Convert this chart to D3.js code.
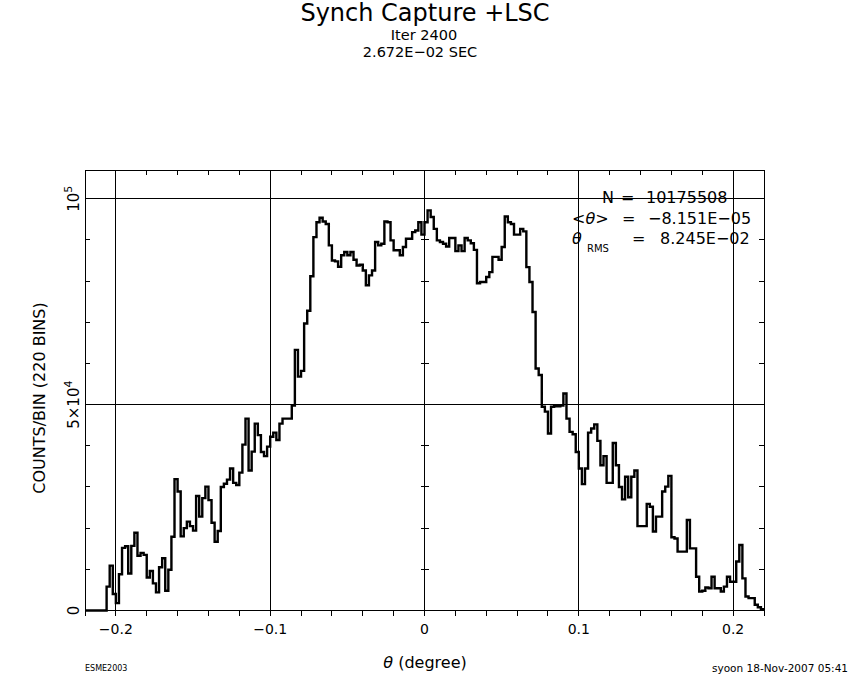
<!DOCTYPE html>
<html>
<head>
<meta charset="utf-8">
<script src="https://cdn.jsdelivr.net/npm/d3@7"></script>
<style>
  body { margin: 0; background: #fff; }
  text { font-family: "DejaVu Sans", sans-serif; fill: #000; }
</style>
</head>
<body>
<svg id="chart" width="850" height="680"></svg>
<script>
// histogram: 220 bins of width 0.002 degree between -0.22 and 0.22, counts in thousands
var binStart = -0.22, binWidth = 0.002;
var countsK = [
  0, 0, 0, 0, 0, 0, 0, 5.8, 10.9, 4.0,
  1.8, 8.8, 15.2, 15.6, 9.0, 15.7, 18.9, 13.3, 14.0, 13.5,
  8.0, 9.6, 6.6, 4.4, 10.5, 12.7, 4.8, 9.9, 17.9, 31.9,
  28.9, 18.0, 20.0, 21.6, 20.5, 19.4, 27.8, 22.8, 27.3, 30.1,
  26.8, 21.3, 16.7, 19.3, 30.0, 30.8, 31.8, 34.5, 31.0, 30.5,
  33.5, 40.3, 46.6, 34.0, 38.6, 45.4, 42.6, 38.5, 37.5, 39.8,
  42.2, 43.2, 41.4, 45.4, 46.6, 46.6, 46.6, 49.8, 63.3, 56.8,
  58.2, 69.7, 72.8, 81.2, 90.7, 94.3, 95.4, 94.5, 93.9, 88.7,
  85.0, 84.8, 83.5, 86.3, 87.1, 86.3, 87.1, 85.2, 83.8, 84.0,
  82.6, 79.0, 81.4, 82.6, 89.5, 88.7, 89.1, 94.5, 94.3, 89.9,
  87.5, 87.5, 86.3, 88.3, 90.3, 90.3, 91.9, 92.3, 94.3, 91.3,
  94.3, 97.2, 95.6, 92.7, 89.9, 89.5, 89.1, 88.4, 90.5, 90.5,
  87.3, 88.7, 87.3, 90.5, 89.9, 89.2, 87.6, 79.5, 79.8, 79.8,
  81.0, 82.2, 85.9, 85.9, 85.2, 88.3, 95.7, 94.3, 93.9, 91.3,
  91.3, 92.7, 92.1, 83.4, 79.8, 72.5, 58.8, 57.2, 49.5, 48.3,
  43.0, 49.5, 49.6, 49.6, 49.8, 52.7, 46.6, 43.4, 42.8, 38.5,
  34.5, 30.7, 34.5, 43.2, 44.2, 45.2, 41.2, 35.3, 37.5, 31.0,
  31.0, 40.7, 35.3, 30.0, 27.0, 32.5, 27.5, 32.5, 34.0, 20.5,
  20.5, 20.5, 25.9, 25.2, 19.2, 22.8, 22.8, 28.9, 30.1, 32.7,
  17.8, 17.5, 14.3, 14.3, 14.3, 22.0, 15.1, 15.1, 8.2, 4.6,
  4.8, 5.6, 5.4, 8.2, 5.4, 5.4, 4.6, 5.8, 8.2, 7.0,
  7.0, 11.9, 15.9, 7.8, 3.4, 3.0, 3.0, 1.4, 0.8, 0.3
];
var counts = countsK.map(function(v) { return v * 1000; });

var xMajor = [-0.2, -0.1, 0, 0.1, 0.2];
var xTickLabels = ["\u22120.2", "\u22120.1", "0", "0.1", "0.2"];
var yMajor = [0, 50000, 100000];

var titleLines = ["Synch Capture +LSC", "Iter 2400", "2.672E\u221202 SEC"];
var statN = "10175508", statMean = "\u22128.151E\u221205", statRms = "8.245E\u221202";

var svg = d3.select("#chart");

var x = d3.scaleLinear().domain([-0.22, 0.22]).range([85, 764]);
var y = d3.scaleLinear().domain([0, 107000]).range([610.5, 170]);

// grid lines
svg.append("g").attr("shape-rendering", "crispEdges").selectAll("line")
    .data(xMajor)
  .enter().append("line")
    .attr("x1", function(d) { return x(d); })
    .attr("x2", function(d) { return x(d); })
    .attr("y1", y.range()[1])
    .attr("y2", y.range()[0])
    .attr("stroke", "#000").attr("stroke-width", 1);
svg.append("g").attr("shape-rendering", "crispEdges").selectAll("line")
    .data(yMajor.slice(1))
  .enter().append("line")
    .attr("x1", x.range()[0]).attr("x2", x.range()[1])
    .attr("y1", function(d) { return y(d); })
    .attr("y2", function(d) { return y(d); })
    .attr("stroke", "#000").attr("stroke-width", 1);

// frame
svg.append("rect")
    .attr("x", x.range()[0]).attr("y", y.range()[1])
    .attr("width", x.range()[1] - x.range()[0])
    .attr("height", y.range()[0] - y.range()[1])
    .attr("shape-rendering", "crispEdges")
    .attr("fill", "none").attr("stroke", "#000").attr("stroke-width", 1);

// minor ticks
var xMinor = d3.range(-0.22, 0.2201, 0.02);
var yMinor = d3.range(0, 107000, 10000);
var ticks = svg.append("g").attr("stroke", "#000").attr("stroke-width", 1)
    .attr("shape-rendering", "crispEdges");
xMinor.forEach(function(v) {
  ticks.append("line").attr("x1", x(v)).attr("x2", x(v))
      .attr("y1", y.range()[0]).attr("y2", y.range()[0] + 5);
  ticks.append("line").attr("x1", x(v)).attr("x2", x(v))
      .attr("y1", y.range()[1]).attr("y2", y.range()[1] + 5);
});
yMinor.forEach(function(v) {
  ticks.append("line").attr("x1", x.range()[0]).attr("x2", x.range()[0] + 5)
      .attr("y1", y(v)).attr("y2", y(v));
  ticks.append("line").attr("x1", x.range()[1] - 5).attr("x2", x.range()[1])
      .attr("y1", y(v)).attr("y2", y(v));
  ticks.append("line").attr("x1", x(0) - 4).attr("x2", x(0) + 4)
      .attr("y1", y(v)).attr("y2", y(v));
});

// histogram as a step line
var pts = counts.map(function(c, i) { return [binStart + i * binWidth, c]; });
pts.push([binStart + counts.length * binWidth, counts[counts.length - 1]]);
var step = d3.line()
    .x(function(d) { return x(d[0]); })
    .y(function(d) { return y(d[1]); })
    .curve(d3.curveStepAfter);
svg.append("path")
    .attr("d", step(pts))
    .attr("fill", "none")
    .attr("stroke", "#000")
    .attr("stroke-width", 2.4)
    .attr("stroke-linejoin", "miter");

// x tick labels
svg.append("g").selectAll("text")
    .data(xMajor)
  .enter().append("text")
    .attr("x", function(d) { return x(d); })
    .attr("y", 634)
    .attr("text-anchor", "middle")
    .style("font-size", "14px")
    .text(function(d, i) { return xTickLabels[i]; });

// y tick labels (rotated)
function yLabel(v, parts) {
  var t = svg.append("text")
      .attr("transform", "translate(79," + y(v) + ") rotate(-90)")
      .attr("text-anchor", "middle")
      .style("font-size", "15px");
  parts.forEach(function(p) {
    t.append("tspan")
        .attr("dy", p.dy || 0)
        .style("font-size", p.size || "15px")
        .text(p.t);
  });
}
yLabel(0, [{t: "0"}]);
yLabel(50000, [{t: "5\u00d710"}, {t: "4", dy: -7, size: "11px"}]);
yLabel(100000, [{t: "10"}, {t: "5", dy: -7, size: "11px"}]);

svg.append("text")
    .attr("transform", "translate(45,398) rotate(-90)")
    .attr("text-anchor", "middle")
    .style("font-size", "16px")
    .text("COUNTS/BIN (220 BINS)");

var xl = svg.append("text")
    .attr("x", 425).attr("y", 668)
    .attr("text-anchor", "middle")
    .style("font-size", "16px");
xl.append("tspan").style("font-style", "italic").text("\u03b8");
xl.append("tspan").text(" (degree)");

// titles
svg.append("text").attr("x", 425).attr("y", 21).attr("text-anchor", "middle")
    .style("font-size", "24px").text(titleLines[0]);
svg.append("text").attr("x", 424).attr("y", 40).attr("text-anchor", "middle")
    .style("font-size", "14.5px").text(titleLines[1]);
svg.append("text").attr("x", 420).attr("y", 57).attr("text-anchor", "middle")
    .style("font-size", "14.5px").text(titleLines[2]);

// statistics box
var stats = svg.append("g").style("font-size", "16px");
stats.append("text").attr("x", 602).attr("y", 203).text("N");
stats.append("text").attr("x", 621).attr("y", 203).text("=");
stats.append("text").attr("x", 646).attr("y", 203).text(statN);

var m = stats.append("text").attr("x", 572).attr("y", 224);
m.append("tspan").text("<");
m.append("tspan").style("font-style", "italic").text("\u03b8");
m.append("tspan").text(">");
stats.append("text").attr("x", 622).attr("y", 224).text("=");
stats.append("text").attr("x", 648).attr("y", 224).text(statMean);

stats.append("text").attr("x", 572).attr("y", 244)
    .style("font-style", "italic").text("\u03b8");
stats.append("text").attr("x", 587).attr("y", 252)
    .style("font-size", "10px").text("RMS");
stats.append("text").attr("x", 632).attr("y", 244).text("=");
stats.append("text").attr("x", 660).attr("y", 244).text(statRms);

// footers
svg.append("text").attr("x", 85).attr("y", 671)
    .style("font-size", "8px").text("ESME2003");
svg.append("text").attr("x", 848).attr("y", 672).attr("text-anchor", "end")
    .style("font-size", "10.5px").text("syoon 18-Nov-2007 05:41");
</script>
</body>
</html>
